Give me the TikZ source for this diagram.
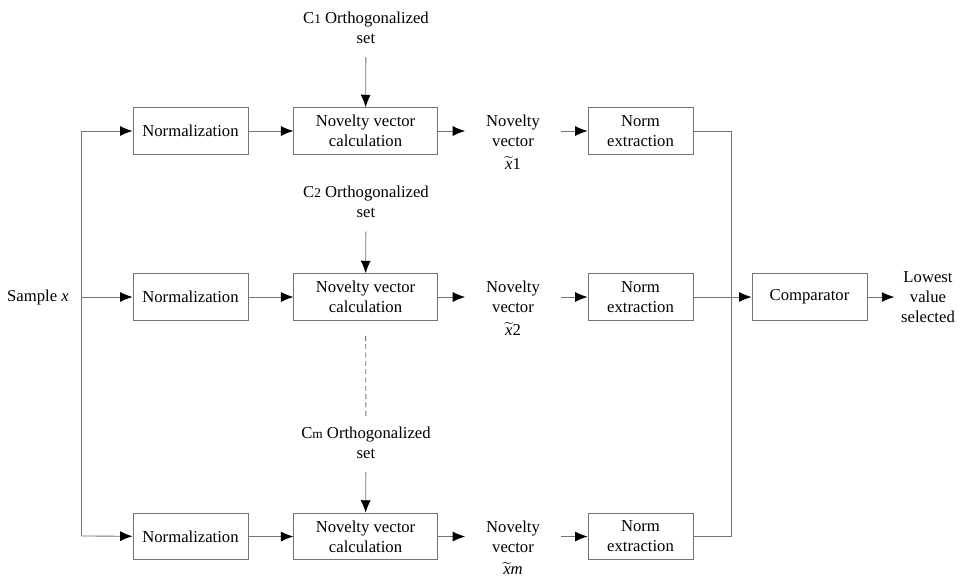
\documentclass[tikz,border=0pt]{standalone}
\usepackage{fontspec}
\setmainfont{Liberation Serif}
\usetikzlibrary{arrows.meta}
\tikzset{
  blk/.style={draw=black!55,line width=.5pt,minimum height=28pt,align=center,inner sep=2pt},
  lbl/.style={align=center,inner sep=2pt},
  ln/.style={draw=black!55,line width=.5pt},
  arr/.style={ln,-{Latex[length=7.5pt,width=6pt,color=black]}}
}
\newcommand{\xt}{$\widetilde{\mbox{\textit{x}}}$}
\begin{document}
\begin{tikzpicture}[x=0.6pt,y=-0.6pt,font=\fontsize{10}{12}\selectfont]
  \useasboundingbox (0,0) rectangle (960,579);

  % input bus
  \node[lbl] (sample) at (38,297) {Sample \textit{x}};
  \coordinate (ltop) at (81,131);
  \coordinate (lbot) at (81,536);

  % rows
  \node[blk,minimum width=69pt] (norm1) at (190.5,131) {Normalization};
  \node[blk,minimum width=69pt] (norm2) at (190.5,297) {Normalization};
  \node[blk,minimum width=69pt] (norm3) at (190.5,536.5) {Normalization};

  \node[blk,minimum width=86pt] (calc1) at (365.5,131) {Novelty vector\\calculation};
  \node[blk,minimum width=86pt] (calc2) at (365.5,297) {Novelty vector\\calculation};
  \node[blk,minimum width=86pt] (calc3) at (365.5,536.5) {Novelty vector\\calculation};

  \node[lbl] (set1) at (366,27.5) {C{\footnotesize 1} Orthogonalized\\set};
  \node[lbl] (set2) at (366,202) {C{\footnotesize 2} Orthogonalized\\set};
  \node[lbl] (setm) at (366,442.5) {C{\footnotesize m} Orthogonalized\\set};

  \node[lbl,minimum width=57pt] (nv1) at (513,142) {Novelty\\vector\\[1.5pt]\xt1};
  \node[lbl,minimum width=57pt] (nv2) at (513,308) {Novelty\\vector\\[1.5pt]\xt2};
  \node[lbl,minimum width=57pt] (nv3) at (513,547.5) {Novelty\\vector\\[1.5pt]\xt\textit{m}};

  \node[blk,minimum width=63pt] (nx1) at (640.5,131) {Norm\\extraction};
  \node[blk,minimum width=63pt] (nx2) at (640.5,297) {Norm\\extraction};
  \node[blk,minimum width=63pt] (nx3) at (640.5,536.5) {Norm\\extraction};

  \coordinate (rtop) at (731,131);
  \coordinate (rbot) at (731,536.5);
  \node[blk,minimum width=69pt] (comp) at (809.5,297) {Comparator};
  \node[lbl,minimum width=40pt] (out) at (928,297) {Lowest\\value\\selected};

  % connectors
  \draw[ln] (ltop) -- (lbot);
  \draw[arr] (ltop) -- (norm1);
  \draw[arr] (ltop |- norm2) -- (norm2);
  \draw[arr] (lbot) -- (norm3);

  \draw[arr] (norm1) -- (calc1);
  \draw[arr] (norm2) -- (calc2);
  \draw[arr] (norm3) -- (calc3);

  \draw[arr,shorten <=6pt] (set1) -- (calc1);
  \draw[arr,shorten <=6pt] (set2) -- (calc2);
  \draw[arr,shorten <=6pt] (setm) -- (calc3);
  \draw[ln,densely dashed,shorten <=9pt,shorten >=3pt] (calc2) -- (setm);

  \draw[arr] (calc1) -- (calc1 -| nv1.west);
  \draw[arr] (calc2) -- (calc2 -| nv2.west);
  \draw[arr] (calc3) -- (calc3 -| nv3.west);

  \draw[arr] (nv1.east |- nx1) -- (nx1);
  \draw[arr] (nv2.east |- nx2) -- (nx2);
  \draw[arr] (nv3.east |- nx3) -- (nx3);

  \draw[ln] (nx1) -- (rtop) -- (rbot) -- (nx3);
  \draw[arr] (nx2) -- (comp);
  \draw[arr] (comp) -- (out);
\end{tikzpicture}
\end{document}
